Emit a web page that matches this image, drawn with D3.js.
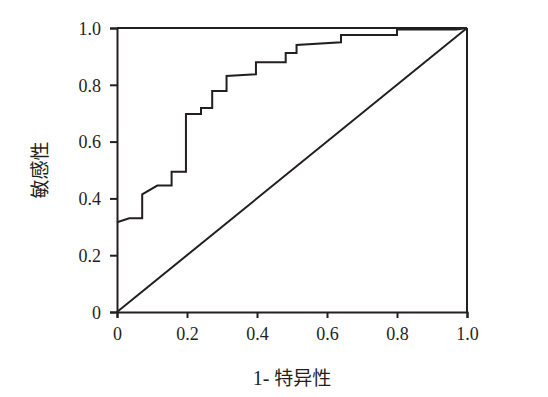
<!DOCTYPE html>
<html>
<head>
<meta charset="utf-8">
<script src="https://cdn.jsdelivr.net/npm/d3@7"></script>
<style>
  body { margin: 0; background: #fff; }
</style>
</head>
<body>
<div class="chart"></div>
<script>
// ROC curve points (1-specificity, sensitivity)
var fpr = [0, 0.035, 0.072, 0.072, 0.115, 0.156, 0.156, 0.197, 0.197, 0.24, 0.24, 0.272, 0.272, 0.313, 0.313, 0.397, 0.397, 0.482, 0.482, 0.513, 0.513, 0.64, 0.64, 0.80, 0.80, 0.97, 1.0];
var tpr = [0.316, 0.33, 0.33, 0.414, 0.445, 0.445, 0.494, 0.494, 0.697, 0.697, 0.718, 0.718, 0.778, 0.778, 0.831, 0.837, 0.879, 0.879, 0.912, 0.912, 0.94, 0.95, 0.975, 0.975, 0.996, 0.995, 1.0];
var xTicks = [0, 0.2, 0.4, 0.6, 0.8, 1.0];
var yTicks = [0, 0.2, 0.4, 0.6, 0.8, 1.0];
var xLabelNum = "1- ";
var xLabel = "特异性";
var yLabel = "敏感性";

var serif = "'Liberation Serif', 'DejaVu Serif', serif";
var cjk = "'Noto Sans CJK SC', sans-serif";
var ink = "#231f20";

var svgWidth = 548, svgHeight = 397;
var margin = { top: 28, right: 81, bottom: 85, left: 117 };
var width = svgWidth - margin.left - margin.right;
var height = svgHeight - margin.top - margin.bottom;

var svg = d3.select(".chart").append("svg")
  .attr("width", svgWidth)
  .attr("height", svgHeight);

var chartGroup = svg.append("g")
  .attr("transform", `translate(${margin.left}, ${margin.top})`);

var x = d3.scaleLinear().domain([0, 1]).range([0, width]);
var y = d3.scaleLinear().domain([0, 1]).range([height, 0]);

var fmt = d => d === 0 ? "0" : d3.format(".1f")(d);

var xAxis = chartGroup.append("g")
  .attr("transform", `translate(0, ${height})`)
  .call(d3.axisBottom(x).tickValues(xTicks).tickFormat(fmt).tickSize(6).tickPadding(9));

var yAxis = chartGroup.append("g")
  .call(d3.axisLeft(y).tickValues(yTicks).tickFormat(fmt).tickSize(7).tickPadding(9));

[xAxis, yAxis].forEach(function (a) {
  a.attr("font-family", serif).attr("font-size", 18);
  a.select(".domain").attr("stroke", ink).attr("stroke-width", 2);
  a.selectAll(".tick line").attr("stroke", ink).attr("stroke-width", 2);
  a.selectAll(".tick text").attr("fill", ink);
});
yAxis.selectAll(".tick text").attr("dy", "0.35em");

// top and right frame
chartGroup.append("line")
  .attr("x1", x(0)).attr("x2", x(1)).attr("y1", y(1)).attr("y2", y(1))
  .attr("stroke", ink).attr("stroke-width", 2);
chartGroup.append("line")
  .attr("x1", x(1)).attr("x2", x(1)).attr("y1", y(1)).attr("y2", y(0))
  .attr("stroke", ink).attr("stroke-width", 2);

// reference diagonal
chartGroup.append("line")
  .attr("x1", x(0)).attr("y1", y(0)).attr("x2", x(1)).attr("y2", y(1))
  .attr("stroke", ink).attr("stroke-width", 2);

// ROC curve
var line = d3.line()
  .x((d, i) => x(fpr[i]))
  .y((d, i) => y(tpr[i]));

chartGroup.append("path")
  .datum(fpr)
  .attr("d", line)
  .attr("fill", "none")
  .attr("stroke", ink)
  .attr("stroke-width", 2);

// axis labels
var xl = chartGroup.append("text")
  .attr("x", width / 2)
  .attr("y", height + 73)
  .attr("text-anchor", "middle")
  .attr("fill", ink)
  .attr("font-size", 20);
xl.append("tspan").attr("font-family", serif).text(xLabelNum);
xl.append("tspan").attr("font-family", cjk).attr("font-size", 19).text(xLabel);

chartGroup.append("text")
  .attr("transform", "rotate(-90)")
  .attr("x", -height / 2)
  .attr("y", -70)
  .attr("text-anchor", "middle")
  .attr("font-family", cjk)
  .attr("font-size", 19)
  .attr("fill", ink)
  .text(yLabel);
</script>
</body>
</html>
